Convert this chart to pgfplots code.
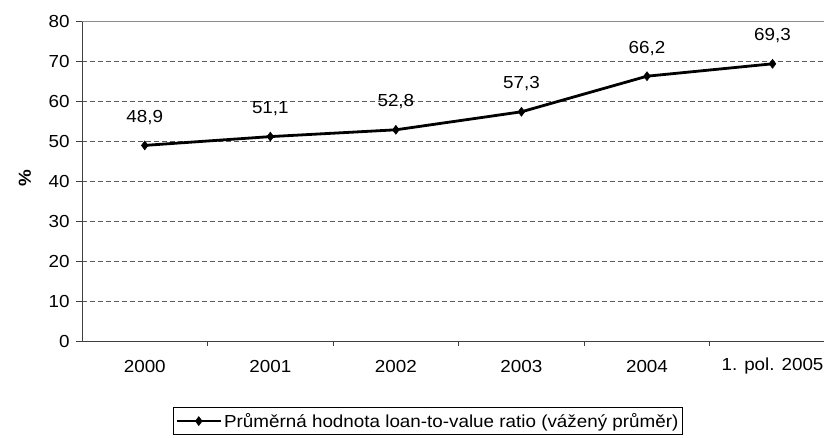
\documentclass[border=0pt]{standalone}
\usepackage{pgfplots}
\pgfplotsset{compat=1.18}
\usepackage{fontspec}
\setmainfont{Liberation Sans}[FakeStretch=1.08]

\begin{document}
\begin{tikzpicture}
\begin{axis}[
    at={(82bp,97bp)}, anchor=south west,
    scale only axis,
    width=742bp, height=320bp,
    font=\fontsize{17.5}{20}\selectfont,
    /pgf/number format/assume math mode=true,
    xmin=-0.5, xmax=5.41,
    ymin=0, ymax=80,
    ytick={0,10,...,80},
    xtick={0,...,5},
    xticklabels={2000,2001,2002,2003,2004,1. pol. 2005},
    minor xtick={0.5,1.5,2.5,3.5,4.5},
    major x tick style={draw=none},
    minor x tick style={black!75, line width=1bp},
    y tick style={black!75, line width=1bp},
    tick align=outside,
    major tick length=6bp,
    minor tick length=5bp,
    axis x line*=bottom,
    axis y line*=left,
    axis line style={-, black!75, line width=1bp},
    ymajorgrids,
    grid style={black!65, line width=1bp, dash pattern=on 5bp off 3bp},
    xticklabel style={anchor=center, yshift=-19bp},
    yticklabel style={xshift=-3bp},
    ylabel={\bfseries\%},
    ylabel style={at={(axis description cs:-0.077,0.509)}, anchor=center},
    nodes near coords={\pgfplotspointmeta},
    point meta=explicit symbolic,
    every node near coord/.append style={anchor=center, yshift=28bp, font=\fontsize{17.5}{20}\selectfont},
    legend style={
        at={(axis description cs:0.1226,-0.206)}, anchor=north west,
        draw=black, line width=0.8bp,
        inner xsep=2bp, inner ysep=4bp,
        font=\fontsize{17.5}{20}\selectfont,
    },
    legend image code/.code={
        \draw[mark repeat=2,mark phase=2,#1] plot coordinates {(0bp,0bp) (22bp,0bp) (44bp,0bp)};
    },
    clip=false,
]
\draw[black!45, line width=1bp] (rel axis cs:0,1) -- (rel axis cs:1,1);
\addplot[
    black,
    line width=2.8bp,
    mark=diamond*,
    mark size=4.5bp,
    mark options={solid, fill=black, line width=0.5bp}
] table[meta=lab] {
x y lab
0 48.9 {48,9}
1 51.1 {51,1}
2 52.8 {52,8}
3 57.3 {57,3}
4 66.2 {66,2}
5 69.3 {69,3}
};
\addlegendentry{Průměrná hodnota loan-to-value ratio (vážený průměr)}
\end{axis}
\pgfresetboundingbox
\useasboundingbox (0,0) rectangle (824bp,438bp);
\end{tikzpicture}
\end{document}
